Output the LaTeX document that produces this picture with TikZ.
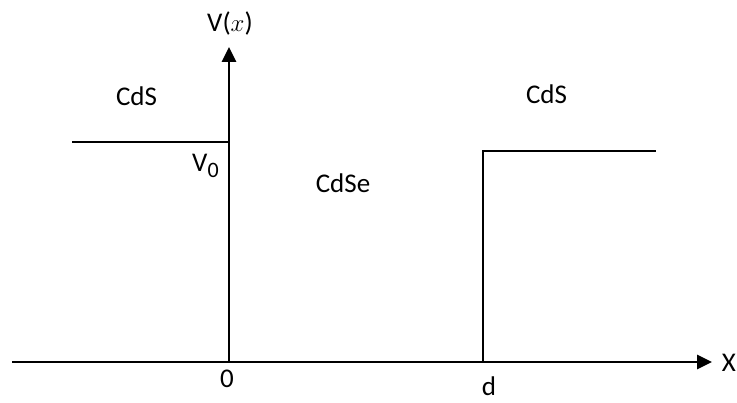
\documentclass[tikz,border=0pt]{standalone}
\usepackage{fontspec}
\setmainfont{Carlito}
\usetikzlibrary{arrows.meta}
\begin{document}
\begin{tikzpicture}[x=1pt,y=-1pt,
  axis/.style={line width=2.8pt,-{Triangle[length=15pt,width=14pt]}},
  stepline/.style={line width=2pt},
  lbl/.style={inner sep=0pt,anchor=base,font=\fontsize{27}{30}\selectfont}]
\useasboundingbox (0,0) rectangle (737,403);
% coordinates
\coordinate (xs) at (12,362);
\coordinate (xe) at (712,362);
\coordinate (o) at (229,362);
\coordinate (ye) at (229,47);
\coordinate (ls) at (72,142);
\coordinate (le) at (229,142);
\coordinate (d0) at (483,362);
\coordinate (d1) at (483,151);
\coordinate (re) at (656,151);
% potential steps
\draw[stepline] (ls) -- (le);
\draw[stepline] (d0) -- (d1) -- (re);
% axes
\draw[axis] (xs) -- (xe);
\draw[axis] (o) -- (ye);
% labels
\node[lbl] (vx) at (230,32) {V($x$)};
\node[lbl] (cdsl) at (136.5,106) {CdS};
\node[lbl] (cdsr) at (546.5,104) {CdS};
\node[lbl,anchor=base west] (v0) at (192,172) {V\raisebox{-0.22em}{\fontsize{22}{22}\selectfont 0}};
\node[lbl] (cdse) at (343,193) {CdSe};
\node[lbl] (zero) at (227,388) {0};
\node[lbl] (dl) at (489,396) {d};
\node[lbl] (xl) at (729,372) {X};
\end{tikzpicture}
\end{document}
